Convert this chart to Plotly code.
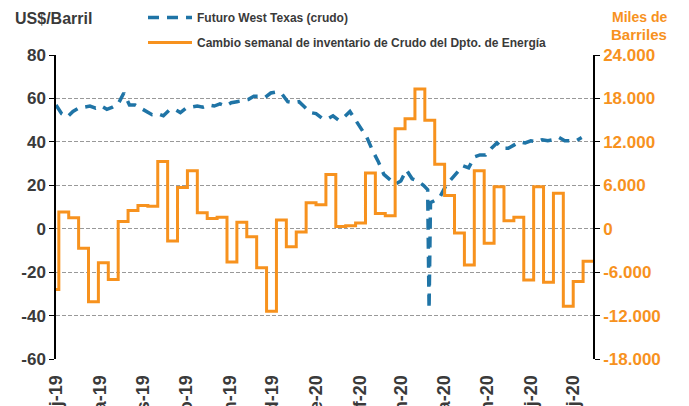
import pandas as pd
import plotly.graph_objects as go

# ---------------- data ----------------
x_start = "2019-07-01"
x_end = "2020-07-15"

month_ticks = ["2019-07-01", "2019-08-01", "2019-09-01", "2019-10-01", "2019-11-01",
               "2019-12-01", "2020-01-01", "2020-02-01", "2020-03-01", "2020-04-01",
               "2020-05-01", "2020-06-01", "2020-07-01"]
month_labels = ["j-19", "a-19", "s-19", "o-19", "n-19", "d-19", "e-20", "f-20",
                "m-20", "a-20", "m-20", "j-20", "j-20"]

# WTI futures (US$/barril), one reading every 4 days from 2019-07-01
wti_values = [57, 53, 51.5, 54, 55.5, 56, 56.5, 55.5, 56.5, 55, 56, 57.5, 62.5, 57, 57,
              55.5, 54, 52.5, 53, 52, 54.5, 55, 53.5, 55.5, 56, 56.5, 56, 57, 56.5, 57.5,
              56.5, 58, 58.5, 59, 59.5, 61, 61, 60.5, 62.5, 63, 62, 58.5, 58, 58.5, 56,
              53.5, 53, 51, 50.5, 52, 50, 51.5, 54, 50, 46.5, 42, 36, 31, 25, 22.5,
              20.5, 22, 27, 23, 22, 20, -37, 13, 15, 20, 23, 26, 29, 28, 33,
              34, 34, 37, 39.5, 37, 37, 38.5, 40, 39.5, 40.5, 40, 41, 40.5, 41, 42,
              40.5, 40.5, 40.5, 42]
# extra daily readings around the negative-price day
spike_dates = ["2020-03-20", "2020-03-22"]
spike_values = [18, 12]

# Weekly change in crude inventories (thousand barrels)
inv_first_date = "2019-07-01"
inv_weekly_start = "2019-07-03"
inv_values = [-8400, 2300, 1500, -2700, -10100, -4700, -7000, 1000, 2500, 3200, 3100,
              9300, -1700, 5700, 8000, 2200, 1400, 1600, -4600, 900, -1100, -5400,
              -11400, 1200, -2500, -450, 3600, 3300, 7500, 300, 400, 800, 7700, 2100,
              1800, 13800, 15200, 19300, 15000, 8900, 4600, -600, -5000, 8000, -2000,
              5800, 1100, 1600, -7100, 5800, -7400, 4900, -10700, -7300, -4500]

left_ticks = [80, 60, 40, 20, 0, -20, -40, -60]
left_labels = ["80", "60", "40", "20", "0", "-20", "-40", "-60"]
right_ticks = [24000, 18000, 12000, 6000, 0, -6000, -12000, -18000]
right_labels = ["24.000", "18.000", "12.000", "6.000", "0", "-6.000", "-12.000", "-18.000"]

# ---------------- build series ----------------
wti = pd.Series(wti_values, index=pd.date_range(x_start, periods=len(wti_values), freq="4D"))
wti = pd.concat([wti, pd.Series(spike_values, index=pd.to_datetime(spike_dates))]).sort_index()

inv_dates = [pd.Timestamp(inv_first_date)] + list(
    pd.date_range(inv_weekly_start, periods=len(inv_values) - 1, freq="7D"))
inv_x = inv_dates + [pd.Timestamp(x_end)]
inv_y = inv_values + [inv_values[-1]]

BLUE = "#1f74a6"
ORANGE = "#f7921e"
TXT = "#3a3a3a"
FONT = "Liberation Sans, Arial, sans-serif"

fig = go.Figure()
fig.add_trace(go.Scatter(
    x=wti.index, y=wti.values, mode="lines", name="Futuro West Texas (crudo)",
    line=dict(color=BLUE, width=3.5, dash="11px,8px"), legend="legend"))
fig.add_trace(go.Scatter(
    x=inv_x, y=inv_y, mode="lines", yaxis="y2", line_shape="hv",
    name="Cambio semanal de inventario de Crudo del Dpto. de Energía",
    line=dict(color=ORANGE, width=3), legend="legend2"))

# the page body adds an 8px offset; the figure is sized to fit the window
OFF = 8
W, H = 689 - OFF, 406 - OFF
# plot area in window pixels: x 56..593, y 55..359
L, T = 56 - OFF, 55 - OFF
R = W - (593 - OFF)
B = H - (359 - OFF)
ph = H - T - B
pw = W - L - R

def py(px):
    return ((359 - OFF) - (px - OFF)) / ph

def pxx(px):
    return ((px - OFF) - L) / pw

tickfont = dict(family=FONT, size=17, color=TXT, weight="bold")
legfont = dict(family=FONT, size=12, color=TXT, weight="bold")

fig.update_layout(
    width=W, height=H,
    margin=dict(l=L, r=R, t=T, b=B, autoexpand=False),
    plot_bgcolor="white", paper_bgcolor="white",
    font=dict(family=FONT, color=TXT),
    xaxis=dict(
        type="date", range=[x_start, x_end], automargin=False,
        tickmode="array", tickvals=month_ticks, ticktext=month_labels,
        tickangle=-90, tickfont=dict(family=FONT, size=18, color=TXT, weight="bold"),
        showgrid=False, zeroline=False, showline=False,
        ticks="outside", ticklen=8, tickcolor="rgba(0,0,0,0)",
    ),
    xaxis2=dict(
        type="date", range=[x_start, x_end], overlaying="x", anchor="free",
        position=60 / 140, side="bottom",
        tickmode="array", tickvals=month_ticks, showticklabels=False,
        showgrid=False, zeroline=False, showline=True, linecolor="black", linewidth=1.5,
        ticks="outside", ticklen=5, tickcolor="black", tickwidth=1.2,
    ),
    yaxis=dict(
        range=[-60, 80], tickmode="array", tickvals=left_ticks, ticktext=left_labels,
        tickfont=tickfont, showgrid=True, gridcolor="#999999", griddash="4px,2px",
        gridwidth=1, zeroline=False, showline=True, linecolor="black", linewidth=1.5,
        ticks="outside", ticklen=5, tickcolor="black", tickwidth=1.2, automargin=False,
    ),
    yaxis2=dict(
        range=[-18000, 24000], overlaying="y", side="right", tickmode="array",
        tickvals=right_ticks, ticktext=right_labels, automargin=False,
        tickfont=dict(family=FONT, size=17, color=ORANGE, weight="bold"),
        showgrid=False, zeroline=False, showline=True, linecolor="black", linewidth=1.5,
        ticks="outside", ticklen=5, tickcolor="black", tickwidth=1.2,
    ),
    legend=dict(x=pxx(143), y=py(3), xanchor="left", yanchor="top", itemwidth=44,
                bgcolor="rgba(0,0,0,0)", font=legfont),
    legend2=dict(x=pxx(143), y=py(28), xanchor="left", yanchor="top", itemwidth=44,
                 bgcolor="rgba(0,0,0,0)", font=legfont),
    showlegend=True,
)

fig.add_annotation(text="US$/Barril", xref="paper", yref="paper", x=pxx(13), y=py(19),
                   xanchor="left", yanchor="middle", showarrow=False,
                   font=dict(family=FONT, size=16, color=TXT, weight="bold"))
fig.add_annotation(text="Miles de", xref="paper", yref="paper", x=pxx(639), y=py(17),
                   xanchor="center", yanchor="middle", showarrow=False,
                   font=dict(family=FONT, size=14, color=ORANGE, weight="bold"))
fig.add_annotation(text="Barriles", xref="paper", yref="paper", x=pxx(639), y=py(35),
                   xanchor="center", yanchor="middle", showarrow=False,
                   font=dict(family=FONT, size=15, color=ORANGE, weight="bold"))

fig.write_html("out.html")
